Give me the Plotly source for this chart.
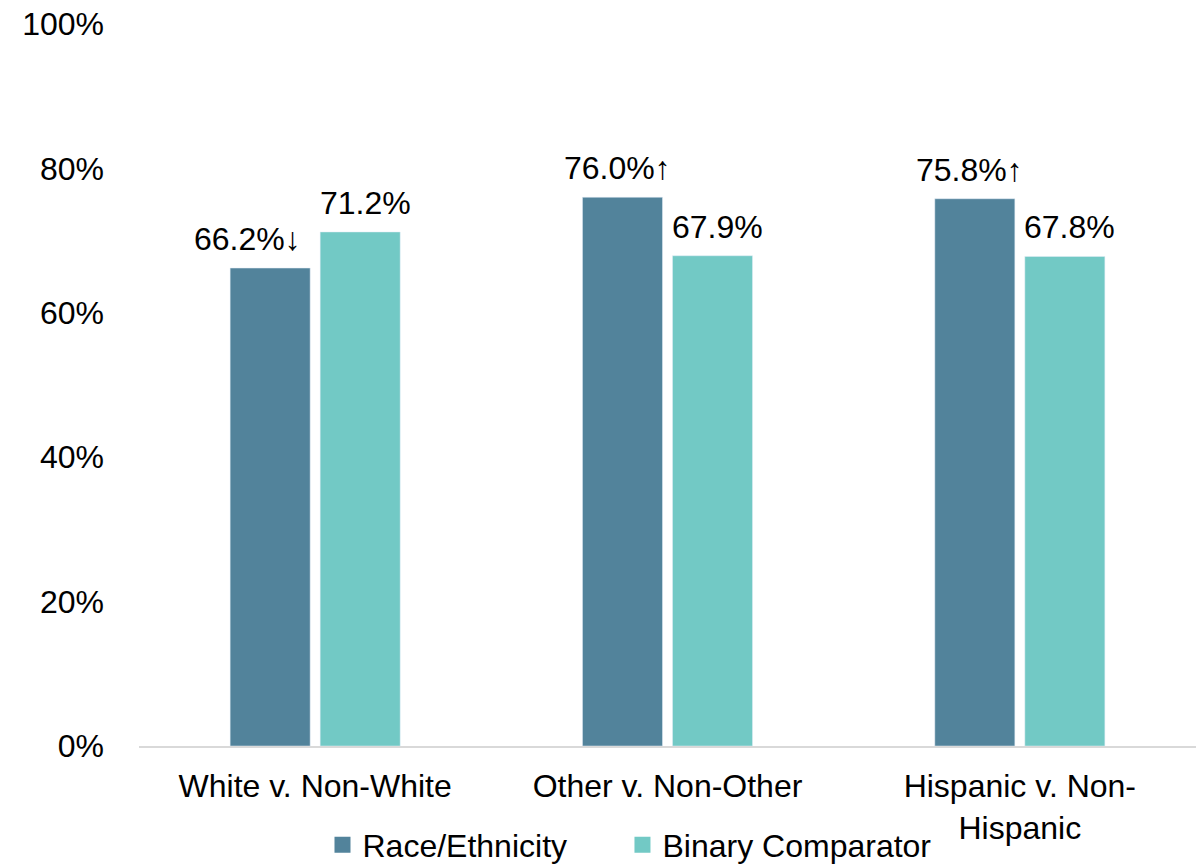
import plotly.graph_objects as go

categories = ["White v. Non-White", "Other v. Non-Other", "Hispanic v. Non-<br>Hispanic"]
race_values = [0.662, 0.760, 0.758]
race_labels = ["66.2%↓", "76.0%↑", "75.8%↑"]
binary_values = [0.712, 0.679, 0.678]
binary_labels = ["71.2%", "67.9%", "67.8%"]
tick_vals = [0, 0.2, 0.4, 0.6, 0.8, 1.0]
tick_text = ["0%", "20%", "40%", "60%", "80%", "100%"]

FONT = "Liberation Sans, Arial, sans-serif"
FS = 32
DARK = "#52839B"
LIGHT = "#72C9C5"
race_label_xshift = [-68, -50, -50]

fig = go.Figure()
fig.add_trace(go.Bar(x=categories, y=race_values, name="Race/Ethnicity",
                     marker_color=DARK, showlegend=False))
fig.add_trace(go.Bar(x=categories, y=binary_values, name="Binary Comparator",
                     marker_color=LIGHT, showlegend=False))
# legend-only square markers, one legend each
fig.add_trace(go.Scatter(x=[None], y=[None], mode="markers", name="Race/Ethnicity",
                         marker=dict(symbol="square", size=22, color=DARK), legend="legend"))
fig.add_trace(go.Scatter(x=[None], y=[None], mode="markers", name="Binary Comparator",
                         marker=dict(symbol="square", size=22, color=LIGHT), legend="legend2"))

for cat, v, t, xs in zip(categories, race_values, race_labels, race_label_xshift):
    fig.add_annotation(x=cat, y=v, text=t, showarrow=False, xshift=xs, yshift=29,
                       font=dict(size=FS, family=FONT, color="black"))
for cat, v, t in zip(categories, binary_values, binary_labels):
    fig.add_annotation(x=cat, y=v, text=t, showarrow=False, xshift=50, yshift=29,
                       font=dict(size=FS, family=FONT, color="black"))

legend_common = dict(orientation="h", xanchor="left", y=-0.137, yanchor="middle",
                     font=dict(size=FS, family=FONT), itemwidth=30,
                     bgcolor="rgba(0,0,0,0)")

fig.update_layout(
    width=1196, height=864,
    margin=dict(l=139, r=0, t=23.5, b=118, autoexpand=False),
    paper_bgcolor="white", plot_bgcolor="white",
    font=dict(family=FONT, size=FS, color="black"),
    barmode="group", bargap=0.489, bargroupgap=0.111,
    showlegend=True,
    legend=dict(x=0.1736, **legend_common),
    legend2=dict(x=0.4574, **legend_common),
    xaxis=dict(showgrid=False, showline=True, linecolor="#D9D9D9", linewidth=2,
               ticks="", tickfont=dict(size=FS, family=FONT), automargin=False,
               ticklabelstandoff=11),
    yaxis=dict(range=[0, 1], tickvals=tick_vals, ticktext=tick_text, showgrid=False,
               zeroline=False, showline=False, ticks="", ticklabelstandoff=34,
               tickfont=dict(size=FS, family=FONT), automargin=False),
)

fig.write_html(
    "out.html",
    config={"displayModeBar": False},
    post_script="document.body.style.margin='0';document.body.style.padding='0';"
                "document.documentElement.style.overflow='hidden';"
                "Plotly.relayout('{plot_id}', {width: 1196, height: 864});",
)
